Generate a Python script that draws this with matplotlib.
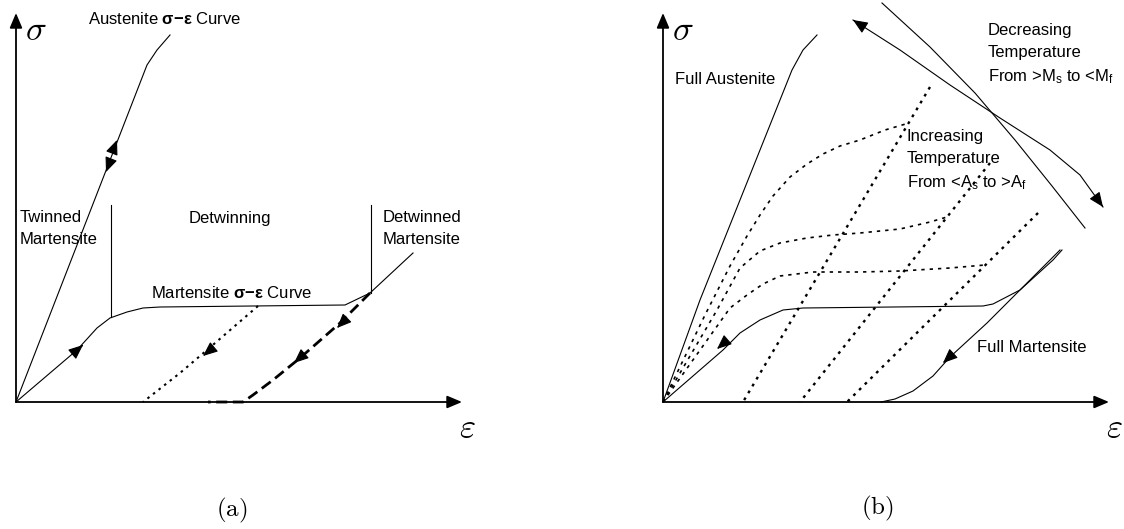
import matplotlib
matplotlib.use('Agg')
import matplotlib.pyplot as plt
import numpy as np

plt.rcParams['font.family'] = ['Liberation Sans', 'DejaVu Sans']
plt.rcParams['mathtext.fontset'] = 'custom'
plt.rcParams['mathtext.rm'] = 'Liberation Sans'
plt.rcParams['mathtext.it'] = 'Liberation Sans:italic'
plt.rcParams['mathtext.bf'] = 'Liberation Sans:bold'

# ---------------- data: panel (a)  (strain, stress) in schematic units ----------------
a_aust_x = [0, 131, 141, 154]
a_aust_y = [0, 337, 352, 367]
a_mart_x = [0, 61, 81, 94, 111, 127, 144, 329, 354, 397]
a_mart_y = [0, 52, 74, 84, 90, 94, 95, 97, 109, 149]
a_unload1_x = [242, 191, 164, 127]
a_unload1_y = [96, 52, 29, 0]
a_unload2_x = [354, 324, 284, 257, 237, 227, 192]
a_unload2_y = [109, 79, 44, 22, 7, 0, 0]
a_vlines_x = [95, 355]
a_vlines_y0 = [85, 109]
a_vlines_y1 = [197, 197]
a_labels = ["Twinned", "Martensite", "Detwinning", "Detwinned", "Martensite",
            r"Austenite $\mathbf{σ{-}ε}$ Curve", r"Martensite $\mathbf{σ{-}ε}$ Curve"]
a_label_x = [4, 4, 173, 367, 367, 72, 135]
a_label_y = [184, 162, 184, 184, 162, 383, 109]
# arrow heads: tip and direction
a_arrow_tip = [(101, 262), (90, 230), (67, 57), (187, 46), (321, 74), (278, 39)]
a_arrow_dir = [(131, 337), (-131, -337), (61, 52), (-115, -96), (-30, -30), (-40, -35)]

# ---------------- data: panel (b) ----------------
b_aust_x = [0, 37, 129, 140, 154]
b_aust_y = [0, 102, 332, 352, 367]
b_mart_x = [0, 60, 77, 97, 120, 140, 320, 330, 357, 390, 399]
b_mart_y = [0, 52, 69, 82, 92, 94, 96, 98, 112, 142, 152]
b_fullm_x = [397, 364, 324, 287, 270, 250, 232, 218]
b_fullm_y = [152, 119, 79, 45, 26, 11, 3, 0]
b_loadA_x = [0, 42, 67, 84, 97, 110, 127, 144, 160, 177, 197, 222, 246]
b_loadA_y = [0, 87, 136, 166, 187, 206, 225, 238, 248, 256, 262, 272, 279]
b_loadB_x = [0, 54, 77, 97, 117, 144, 170, 197, 237, 267, 284]
b_loadB_y = [0, 92, 134, 151, 159, 164, 167, 169, 173, 180, 185]
b_loadC_x = [0, 67, 84, 100, 117, 150, 197, 237, 287, 322]
b_loadC_y = [0, 94, 107, 118, 126, 130, 130, 131, 134, 137]
b_unload_x0 = [267, 327, 375]
b_unload_y0 = [315, 239, 189]
b_unload_x1 = [80, 137, 184]
b_unload_y1 = [0, 0, 0]
b_arc_x = [219, 267, 312, 352, 389, 422]
b_arc_y = [399, 355, 309, 262, 216, 174]
b_darrow_x = [190, 237, 287, 337, 387, 417, 440]
b_darrow_y = [382, 352, 317, 284, 252, 227, 195]
b_labels = ["Full Austenite", "Decreasing", "Temperature",
            r"From >M$_{\mathrm{s}}$ to <M$_{\mathrm{f}}$",
            "Increasing", "Temperature",
            r"From <A$_{\mathrm{s}}$ to >A$_{\mathrm{f}}$", "Full Martensite"]
b_label_x = [12, 325, 325, 325, 244, 244, 244, 314]
b_label_y = [322, 372, 350, 325, 265, 244, 219, 55]
b_arrow_tip = [(54, 53), (280, 39)]
b_arrow_dir = [(-60, -52), (-37, -34)]

W, H = 1124, 529
fig = plt.figure(figsize=(W / 100, H / 100), dpi=100)
fig.patch.set_facecolor('white')


def make_ax(ox, oy):
    ax = fig.add_axes([ox / W, (H - oy) / H, 460 / W, 400 / H])
    ax.set_xlim(0, 460)
    ax.set_ylim(0, 400)
    ax.axis('off')
    return ax


def head(ax, tip, d, ms=10):
    d = np.array(d, float)
    d /= np.hypot(*d)
    tail = np.array(tip) - d * 2.0
    ax.annotate('', xy=tip, xytext=tuple(tail),
                arrowprops=dict(arrowstyle='-|>,head_length=0.9,head_width=0.38',
                                color='k', lw=0.8, shrinkA=0, shrinkB=0,
                                mutation_scale=ms),
                annotation_clip=False)


def axes_arrows(ax):
    for xy in [(446, 0), (0, 389)]:
        ax.annotate('', xy=xy, xytext=(0, 0),
                    arrowprops=dict(arrowstyle='-|>,head_length=0.9,head_width=0.38',
                                    color='k', lw=1.3, shrinkA=0, shrinkB=0,
                                    mutation_scale=10),
                    annotation_clip=False)
    ax.text(20, 371, r'$\sigma$', math_fontfamily='cm', fontsize=25,
            ha='center', va='center', clip_on=False)
    ax.text(451, -26, r'$\varepsilon$', math_fontfamily='cm', fontsize=25,
            ha='center', va='center', clip_on=False)


# ---------------- panel (a) ----------------
ax = make_ax(16, 402)
axes_arrows(ax)
ax.plot(a_aust_x, a_aust_y, color='k', lw=0.8, clip_on=False)
ax.plot(a_mart_x, a_mart_y, color='k', lw=0.8, clip_on=False)
ax.plot(a_unload1_x, a_unload1_y, color='k', lw=1.5, ls=(0, (1.2, 2.2)), clip_on=False)
ax.plot(a_unload2_x, a_unload2_y, color='k', lw=2.0, ls=(0, (4, 2)), clip_on=False)
for x, y0, y1 in zip(a_vlines_x, a_vlines_y0, a_vlines_y1):
    ax.plot([x, x], [y0, y1], color='k', lw=0.8)
for t, x, y in zip(a_labels, a_label_x, a_label_y):
    ax.text(x, y, t, fontsize=12, ha='left', va='center', clip_on=False)
for tip, d in zip(a_arrow_tip, a_arrow_dir):
    head(ax, tip, d)
ax.text(216, -108, r'$\mathrm{(a)}$', math_fontfamily='cm', fontsize=18,
        ha='center', va='center', clip_on=False)

# ---------------- panel (b) ----------------
bx = make_ax(663, 402)
axes_arrows(bx)
bx.plot(b_aust_x, b_aust_y, color='k', lw=0.8, clip_on=False)
bx.plot(b_mart_x, b_mart_y, color='k', lw=0.8, clip_on=False)
bx.plot(b_fullm_x, b_fullm_y, color='k', lw=0.8, clip_on=False)
for xs, ys in [(b_loadA_x, b_loadA_y), (b_loadB_x, b_loadB_y), (b_loadC_x, b_loadC_y)]:
    bx.plot(xs, ys, color='k', lw=1.2, ls=(0, (2, 3)), clip_on=False)
for x0, y0, x1, y1 in zip(b_unload_x0, b_unload_y0, b_unload_x1, b_unload_y1):
    bx.plot([x0, x1], [y0, y1], color='k', lw=1.7, ls=(0, (1.2, 2.2)), clip_on=False)
bx.plot(b_arc_x, b_arc_y, color='k', lw=0.8, clip_on=False)
bx.plot(b_darrow_x, b_darrow_y, color='k', lw=0.8, clip_on=False)
head(bx, (b_darrow_x[0], b_darrow_y[0]),
     (b_darrow_x[0] - b_darrow_x[1], b_darrow_y[0] - b_darrow_y[1]))
head(bx, (b_darrow_x[-1], b_darrow_y[-1]),
     (b_darrow_x[-1] - b_darrow_x[-2], b_darrow_y[-1] - b_darrow_y[-2]))
for t, x, y in zip(b_labels, b_label_x, b_label_y):
    bx.text(x, y, t, fontsize=12, ha='left', va='center', clip_on=False)
for tip, d in zip(b_arrow_tip, b_arrow_dir):
    head(bx, tip, d)
bx.text(214, -106, r'$\mathrm{(b)}$', math_fontfamily='cm', fontsize=18,
        ha='center', va='center', clip_on=False)

fig.savefig('out.png', dpi=100, facecolor='white')
